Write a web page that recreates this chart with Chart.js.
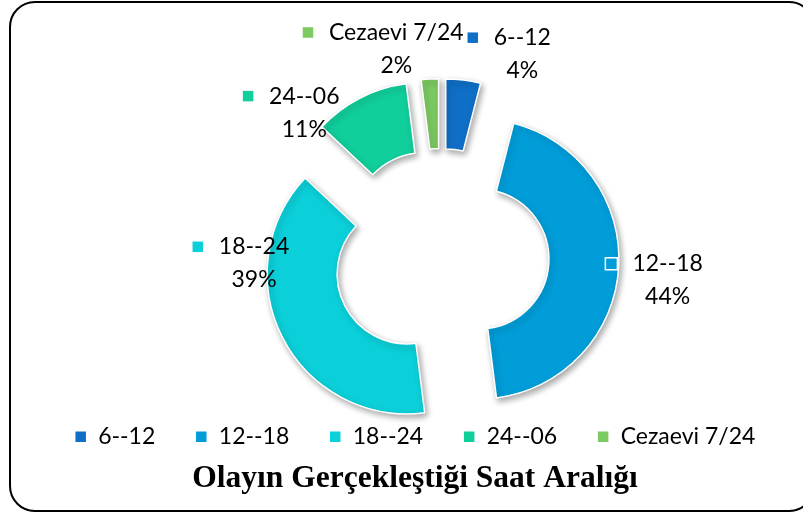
<!DOCTYPE html>
<html>
<head>
<meta charset="utf-8">
<script src="https://cdn.jsdelivr.net/npm/chart.js@4"></script>
<style>
  html, body { margin: 0; padding: 0; background: #fff; overflow: hidden; }
  #wrap { position: relative; width: 803px; height: 513px; }
  #frame {
    position: absolute; left: 9px; top: 1px; width: 806px; height: 511px;
    box-sizing: border-box; border: 2px solid #000; border-radius: 26px;
  }
  canvas { position: absolute; left: 0; top: 0; }
</style>
</head>
<body>
<div id="wrap">
  <div id="frame"></div>
  <canvas id="pieChart" width="803" height="513"></canvas>
</div>
<script>
// Chart data
const hourRanges = ['6--12', '12--18', '18--24', '24--06', 'Cezaevi 7/24'];
const shares = [4, 44, 39, 11, 2];
const chartTitle = 'Olayın Gerçekleştiği Saat Aralığı';

const sliceColors = ['#0F6FC6', '#009DD9', '#0BD0D9', '#10CF9B', '#7CCA62'];

// per-label nudges (px) away from the default spot, like Excel's "best fit"
const labelNudge = [[56, -2], [25, 11], [-7, -85], [-45, 36], [-32, -6]];

// Pull every slice outwards, add a soft shadow, then write the labels
const explodedLabels = {
  id: 'explodedLabels',
  afterDatasetsUpdate(chart, args, opts) {
    chart.getDatasetMeta(0).data.forEach(arc => {
      const mid = (arc.startAngle + arc.endAngle) / 2;
      arc.x += opts.shiftX + Math.cos(mid) * opts.distance;
      arc.y += Math.sin(mid) * opts.distance;
    });
  },
  beforeDatasetsDraw(chart) {
    const ctx = chart.ctx;
    ctx.save();
    ctx.shadowColor = 'rgba(0,0,0,0.35)';
    ctx.shadowBlur = 6;
    ctx.shadowOffsetX = 2;
    ctx.shadowOffsetY = 3;
  },
  afterDatasetsDraw(chart, args, opts) {
    const ctx = chart.ctx;
    ctx.restore();
    const total = shares.reduce((a, b) => a + b, 0);
    ctx.save();
    ctx.font = opts.fontSize + 'px Lato';
    ctx.textAlign = 'center';
    ctx.textBaseline = 'middle';
    chart.getDatasetMeta(0).data.forEach((arc, i) => {
      const mid = (arc.startAngle + arc.endAngle) / 2;
      const r = arc.outerRadius + opts.gap;
      const x = arc.x + Math.cos(mid) * r + labelNudge[i][0];
      const y = arc.y + Math.sin(mid) * r + labelNudge[i][1];
      const name = hourRanges[i];
      const pct = Math.round(shares[i] / total * 100) + '%';
      const y1 = y - opts.lineGap / 2;
      ctx.fillStyle = '#000';
      ctx.fillText(name, x, y1);
      ctx.fillText(pct, x, y + opts.lineGap / 2);
      // small colour key in front of the name
      const w = ctx.measureText(name).width;
      const kx = x - w / 2 - opts.keyGap - opts.keySize;
      ctx.fillStyle = sliceColors[i];
      ctx.fillRect(kx, y1 - opts.keySize / 2, opts.keySize, opts.keySize);
      ctx.strokeStyle = '#fff';
      ctx.lineWidth = 1.5;
      ctx.strokeRect(kx, y1 - opts.keySize / 2, opts.keySize, opts.keySize);
    });
    ctx.restore();
  }
};

new Chart(document.getElementById('pieChart'), {
  type: 'doughnut',
  data: {
    labels: hourRanges,
    datasets: [{
      data: shares,
      backgroundColor: sliceColors,
      borderColor: '#fff',
      borderWidth: 1.5,
      clip: false
    }]
  },
  options: {
    responsive: false,
    animation: false,
    radius: 140,
    cutout: '50%',
    layout: { padding: { top: 128, bottom: 15, left: 27, right: 0 } },
    plugins: {
      tooltip: { enabled: false },
      legend: {
        position: 'bottom',
        labels: {
          boxWidth: 12,
          boxHeight: 12,
          padding: 40,
          color: '#000',
          font: { family: 'Lato', size: 23 }
        }
      },
      title: {
        display: true,
        position: 'bottom',
        text: chartTitle,
        color: '#000',
        font: { family: 'Liberation Serif', size: 31.5, weight: 'bold' },
        padding: { top: 2, bottom: 0 }
      },
      explodedLabels: {
        distance: 38,
        shiftX: 26,
        gap: 24,
        fontSize: 23,
        lineGap: 33,
        keySize: 12,
        keyGap: 15
      }
    }
  },
  plugins: [explodedLabels]
});
</script>
</body>
</html>
